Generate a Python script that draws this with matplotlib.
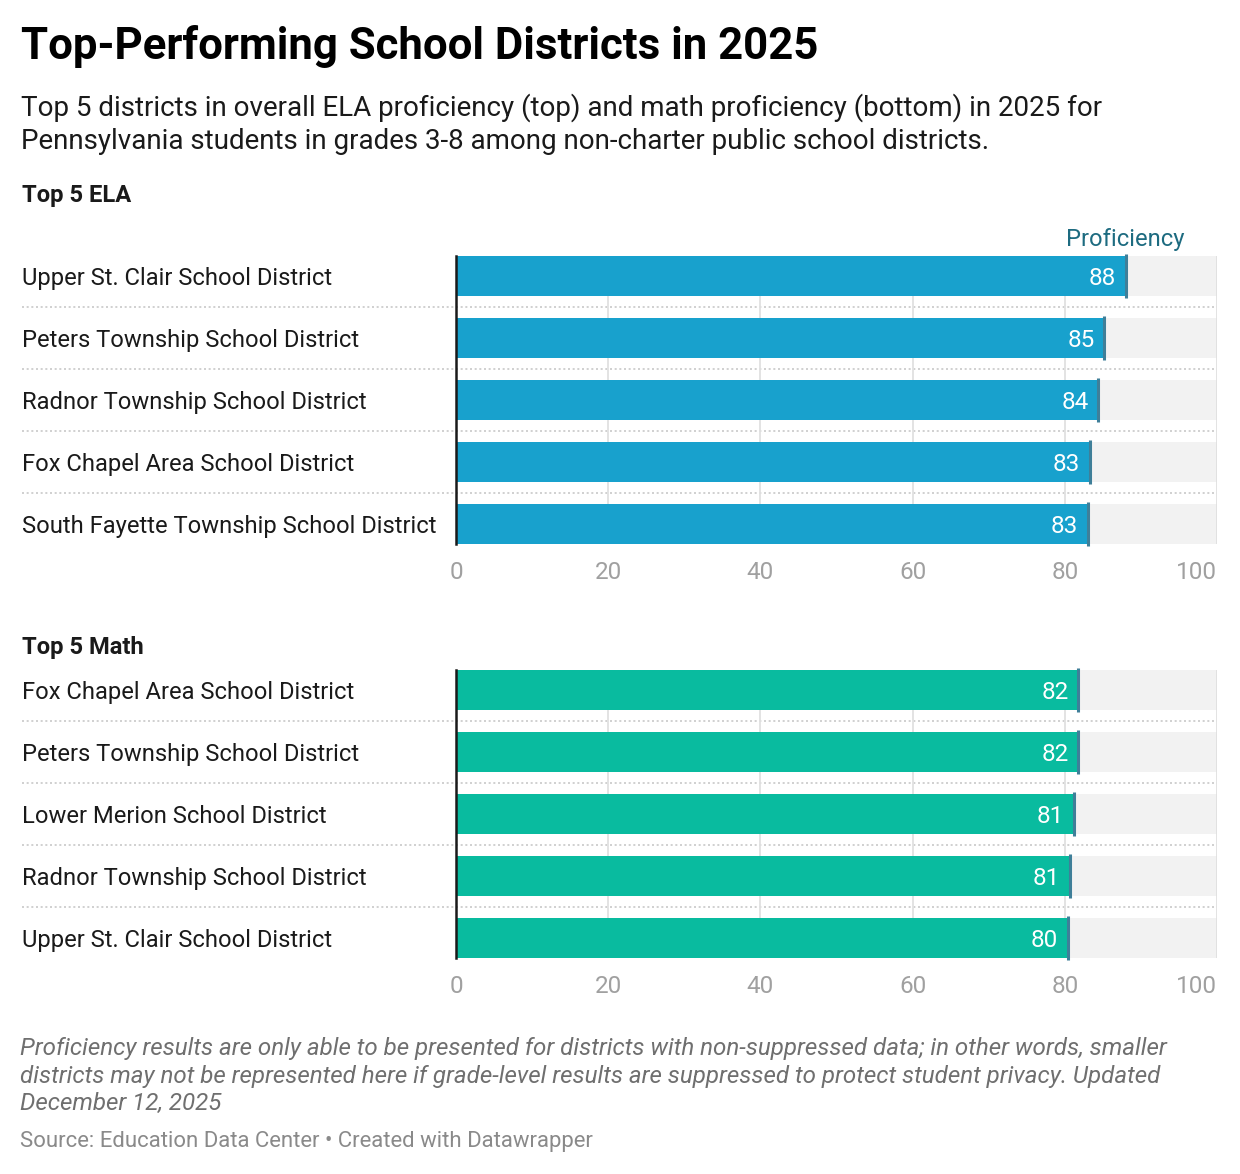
import matplotlib.pyplot as plt
from matplotlib.transforms import blended_transform_factory

plt.rcParams['font.family'] = ['Roboto', 'DejaVu Sans']

W, H = 1240, 1174
DPI = 100

ela_districts = [
    "Upper St. Clair School District",
    "Peters Township School District",
    "Radnor Township School District",
    "Fox Chapel Area School District",
    "South Fayette Township School District",
]
ela_values = [88.0, 85.2, 84.4, 83.3, 83.0]

math_districts = [
    "Fox Chapel Area School District",
    "Peters Township School District",
    "Lower Merion School District",
    "Radnor Township School District",
    "Upper St. Clair School District",
]
math_values = [81.8, 81.8, 81.2, 80.7, 80.4]

ticks = [0, 20, 40, 60, 80, 100]

ELA_COLOR = "#18a1cd"
MATH_COLOR = "#09bb9f"
BG_COLOR = "#f2f2f2"
MARK_COLOR = "#3f7f99"

X0, X1 = 456, 1217       # pixel span of the value axis
ROW = 62
BAR_PX = 40
FS = 17.1


def fy(py):
    return 1 - py / H


def fx(px):
    return px / W


def panel(fig, top_px, names, values, color):
    n = len(names)
    height_px = (n - 1) * ROW + BAR_PX
    ax = fig.add_axes([fx(X0), fy(top_px + height_px), fx(X1) - fx(X0), height_px / H])
    half = BAR_PX / ROW / 2
    ax.set_xlim(0, 100)
    ax.set_ylim(n - 1 + half, -half)
    y = list(range(n))

    ax.barh(y, [100] * n, height=2 * half, color=BG_COLOR, zorder=1)
    ax.barh(y, values, height=2 * half, color=color, zorder=3)
    ext = half + 2 / ROW
    ax.vlines(values, [i - ext for i in y], [i + ext for i in y],
              color=MARK_COLOR, linewidth=2.2, zorder=4, clip_on=False)

    for i, v in zip(y, values):
        ax.annotate(f"{v:.0f}", (v, i), xytext=(-7, 0), textcoords="offset points",
                    ha="right", va="center_baseline", color="white", fontsize=17.5, zorder=5)

    ax.set_xticks(ticks)
    ax.set_yticks([])
    ax.tick_params(axis="x", length=0, pad=12, labelsize=17.5, labelcolor="#a0a0a0")
    ax.get_xticklabels()[-1].set_horizontalalignment("right")
    ax.grid(axis="x", color="#e0e0e0", linewidth=1.3, zorder=2)
    ax.set_axisbelow(False)
    for s in ["top", "right", "bottom"]:
        ax.spines[s].set_visible(False)
    ax.spines["left"].set_color("#1a1a1a")
    ax.spines["left"].set_linewidth(1.8)
    ax.spines["left"].set_zorder(6)

    # district names and dotted separators
    tr = blended_transform_factory(fig.transFigure, ax.transData)
    for i, name in zip(y, names):
        ax.text(fx(22), i, name, transform=tr, ha="left", va="center_baseline",
                fontsize=FS, color="#1a1a1a")
    for i in y[:-1]:
        ax.plot([fx(22), fx(X1)], [i + 0.5, i + 0.5], transform=tr, clip_on=False,
                color="#c8c8c8", linewidth=1.2, linestyle=(0, (1.2, 1.6)), zorder=0)
    return ax


fig = plt.figure(figsize=(W / DPI, H / DPI), dpi=DPI)
fig.patch.set_facecolor("white")

fig.text(fx(21), fy(47), "Top-Performing School Districts in 2025", fontsize=31.5,
         fontweight="bold", color="#000000", va="center", ha="left")
fig.text(fx(21), fy(124),
         "Top 5 districts in overall ELA proficiency (top) and math proficiency (bottom) in 2025 for\n"
         "Pennsylvania students in grades 3-8 among non-charter public school districts.",
         fontsize=20, color="#1a1a1a", va="center", ha="left", linespacing=1.3)

fig.text(fx(22), fy(193), "Top 5 ELA", fontsize=17.1, fontweight="bold", color="#1a1a1a",
         va="center_baseline", ha="left")
fig.text(fx(1185), fy(237), "Proficiency", fontsize=17.1, color="#1d6b80",
         va="center_baseline", ha="right")
panel(fig, 256, ela_districts, ela_values, ELA_COLOR)

fig.text(fx(22), fy(645), "Top 5 Math", fontsize=17.1, fontweight="bold", color="#1a1a1a",
         va="center_baseline", ha="left")
panel(fig, 670, math_districts, math_values, MATH_COLOR)

fig.text(fx(20), fy(1076),
         "Proficiency results are only able to be presented for districts with non-suppressed data; in other words, smaller\n"
         "districts may not be represented here if grade-level results are suppressed to protect student privacy. Updated\n"
         "December 12, 2025",
         fontsize=17.4, style="italic", color="#6f6f6f", va="center", ha="left", linespacing=1.24)
fig.text(fx(20), fy(1141), "Source: Education Data Center \u2022 Created with Datawrapper",
         fontsize=15.9, color="#8a8a8a", va="center", ha="left")

fig.savefig("out.png", dpi=DPI, facecolor="white")
